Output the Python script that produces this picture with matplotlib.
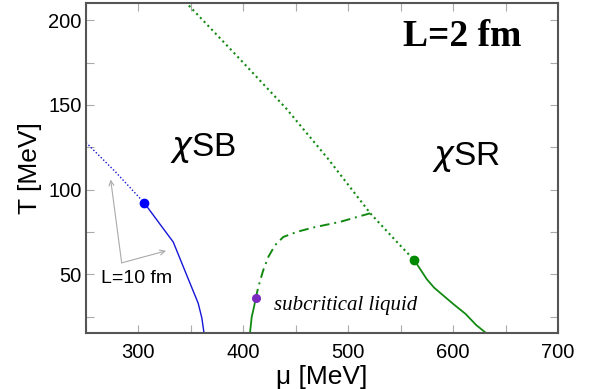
import matplotlib
matplotlib.use("Agg")
import matplotlib.pyplot as plt
from matplotlib.ticker import MultipleLocator

# phase boundary data, mu [MeV] vs T [MeV]
blue_dotted_mu = [250, 278, 305.6]
blue_dotted_T = [127.8, 110.5, 92.1]
blue_solid_mu = [305.6, 320, 333.2, 345, 357, 360.5, 362.5]
blue_solid_T = [92.1, 80, 69, 51, 32.8, 24, 15.3]

green_low_mu = [406.3, 408, 410.2, 411.8]
green_low_T = [15, 24.8, 30.7, 35.7]
green_dashdot_mu = [411.8, 414.3, 419, 423.8, 430.2, 438.1, 450.9, 466.7, 492.1, 521]
green_dashdot_T = [35.7, 42.5, 52.4, 60.2, 67.1, 72, 75, 77.6, 80.9, 86]

green_dotted_mu = [344.5, 393, 440.7, 481, 521, 545, 563]
green_dotted_T = [211, 179.5, 148, 118, 86, 70, 58.3]
green_high_mu = [563, 575, 582, 600, 612, 622, 632]
green_high_T = [58.3, 47, 42, 32.5, 26.5, 20, 15]

crit_blue = (305.6, 92.1)
crit_purple = (411.8, 35.7)
crit_green = (563, 58.3)

arrow_origin = (284, 56.7)
arrow_tips = [(273.5, 105.9), (326.3, 63.8)]

plt.rcParams["font.family"] = ["Liberation Sans", "DejaVu Sans"]

fig = plt.figure(figsize=(5.96, 3.89), dpi=100)
ax = fig.add_axes([0.1443, 0.1427, 0.7919, 0.8488])

green = "#128a12"
blue = "#1515d8"

ax.plot(blue_dotted_mu, blue_dotted_T, color=blue, lw=1.0, linestyle=(0, (1, 1.5)))
ax.plot(blue_solid_mu, blue_solid_T, color=blue, lw=1.0)
ax.plot(green_low_mu, green_low_T, color=green, lw=1.3)
ax.plot(green_dashdot_mu, green_dashdot_T, color=green, lw=1.4, linestyle=(0, (5, 2.5, 1, 2.5)))
ax.plot(green_dotted_mu, green_dotted_T, color=green, lw=1.5, linestyle=(0, (1, 1.6)))
ax.plot(green_high_mu, green_high_T, color=green, lw=1.3)

ax.plot(*crit_blue, "o", color="#0000ff", ms=6, zorder=5)
ax.plot(*crit_purple, "o", color="#7a2cc0", ms=5.5, zorder=5)
ax.plot(*crit_green, "o", color="#008a00", ms=6, zorder=5)

for tip in arrow_tips:
    ax.annotate("", xy=tip, xytext=arrow_origin,
                arrowprops=dict(arrowstyle="->", color="#aaaaaa", lw=0.8,
                                shrinkA=0, shrinkB=0, mutation_scale=9))

ax.text(298.6, 47.5, "L=10 fm", fontsize=14, ha="center", va="center")
ax.text(362, 124.5, r"$\chi$SB", fontsize=24, ha="center", va="center")
ax.text(612, 119, r"$\chi$SR", fontsize=24, ha="center", va="center")
ax.text(608.4, 190.3, "L=2 fm", fontsize=27, ha="center", va="center",
        family="Liberation Serif", fontweight="bold")
ax.text(497.4, 28.7, "subcritical liquid", fontsize=15, ha="center", va="baseline",
        family="Liberation Serif", style="italic")

ax.set_xlim(250, 700)
ax.set_ylim(15, 210)
ax.xaxis.set_major_locator(MultipleLocator(100))
ax.xaxis.set_minor_locator(MultipleLocator(50))
ax.yaxis.set_major_locator(MultipleLocator(50))
ax.yaxis.set_minor_locator(MultipleLocator(25))
ax.set_xticks([300, 400, 500, 600, 700])
ax.tick_params(which="both", direction="in", top=True, right=True,
               length=6, width=0.8, color="#aaaaaa", labelsize=14.5)
ax.tick_params(axis="x", pad=7)
ax.tick_params(axis="y", pad=3)

for sp in ax.spines.values():
    sp.set_color("#555555")
    sp.set_linewidth(1.5)

ax.set_xlabel("μ [MeV]", fontsize=19)
ax.set_ylabel("T [MeV]", fontsize=19)
ax.xaxis.set_label_coords(0.5, -0.095)
ax.yaxis.set_label_coords(-0.093, 0.5)

plt.savefig("out.png", dpi=100)
plt.close()
